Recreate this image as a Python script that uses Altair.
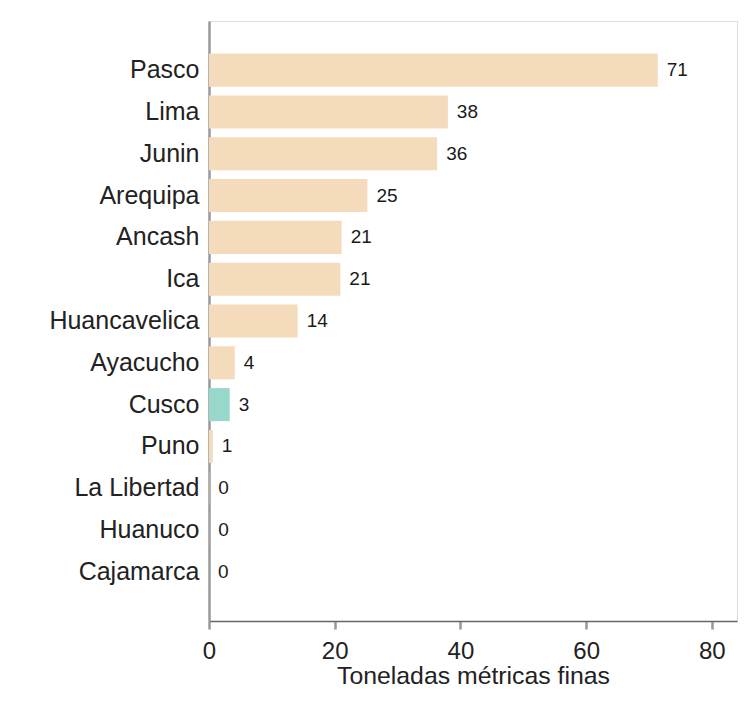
import altair as alt
import pandas as pd

regions = ["Pasco", "Lima", "Junin", "Arequipa", "Ancash", "Ica", "Huancavelica",
           "Ayacucho", "Cusco", "Puno", "La Libertad", "Huanuco", "Cajamarca"]
values = [71.4, 38.0, 36.3, 25.2, 21.1, 20.9, 14.1, 4.1, 3.3, 0.6, 0.05, 0.02, 0.01]
labels = ["71", "38", "36", "25", "21", "21", "14", "4", "3", "1", "0", "0", "0"]
highlight = ["no"] * 8 + ["yes"] + ["no"] * 4

df = pd.DataFrame({"region": regions, "value": values, "label": labels, "hl": highlight})

FONT = "Liberation Sans"

y = alt.Y("region:N", sort=regions, title=None,
          scale=alt.Scale(paddingInner=0.21, paddingOuter=0.78),
          axis=alt.Axis(labelFont=FONT, labelFontSize=25, labelColor="#222",
                        ticks=False, domainColor="#999", domainWidth=2.5,
                        labelPadding=10, minExtent=196, maxExtent=196))
x = alt.X("value:Q", title="Toneladas métricas finas",
          scale=alt.Scale(domain=[0, 84], nice=False),
          axis=alt.Axis(values=[0, 20, 40, 60, 80], labelFont=FONT, labelFontSize=24,
                        labelColor="#222", titleFont=FONT, titleFontSize=24.8,
                        titleFontWeight="normal", titleColor="#222",
                        domainColor="#666", domainWidth=1.5, tickColor="#999",
                        tickWidth=2.5, tickSize=8, grid=False, labelPadding=10,
                        titlePadding=0, labelFlush=False))

bars = alt.Chart(df).mark_bar().encode(
    y=y, x=x,
    color=alt.Color("hl:N", scale=alt.Scale(domain=["no", "yes"],
                                            range=["#f3dbbb", "#98d8cc"]), legend=None)
)
text = alt.Chart(df).mark_text(align="left", baseline="middle", dx=9, font=FONT,
                               fontSize=19, color="#1a1a1a").encode(
    y=alt.Y("region:N", sort=regions), x=alt.X("value:Q"), text="label:N"
)

chart = (bars + text).properties(
    width=528, height=600,
    padding={"left": 5, "top": 13, "right": 5, "bottom": 5}
).configure_view(strokeWidth=0).configure(background="white")

chart.save("out.html", embed_options={"renderer": "svg", "actions": False})
